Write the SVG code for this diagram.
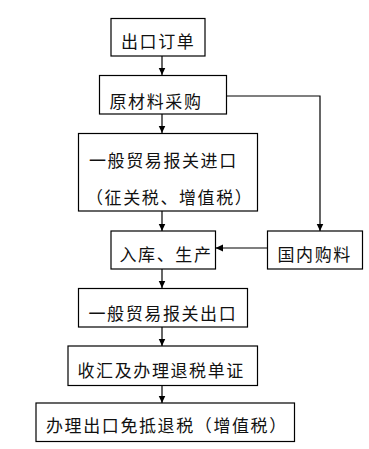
<svg xmlns="http://www.w3.org/2000/svg" width="369" height="449" viewBox="0 0 369 449">
<style>
.box{fill:#fff;stroke:#000;stroke-width:1.2}
.t{font-family:"Noto Sans CJK SC","Noto Sans",sans-serif;font-size:17px;letter-spacing:1.6px;fill:#111}
.c{fill:none;stroke:#000;stroke-width:1.2}
</style>
<defs>
<marker id="ah" markerUnits="userSpaceOnUse" markerWidth="8" markerHeight="8" refX="7.5" refY="4" orient="auto">
<path d="M0,0.5 L7.5,4 L0,7.5 z" fill="#000"/>
</marker>
</defs>
<rect width="369" height="449" fill="#fff"/>
<g id="connectors">
<line class="c" x1="162" y1="56" x2="162" y2="75" marker-end="url(#ah)"/>
<line class="c" x1="162" y1="114" x2="162" y2="133" marker-end="url(#ah)"/>
<polyline class="c" points="226,96 320,96 320,231" marker-end="url(#ah)"/>
<line class="c" x1="162" y1="211" x2="162" y2="231" marker-end="url(#ah)"/>
<line class="c" x1="267" y1="248" x2="215.5" y2="248" marker-end="url(#ah)"/>
<line class="c" x1="162" y1="269" x2="162" y2="288" marker-end="url(#ah)"/>
<line class="c" x1="162" y1="327" x2="162" y2="346" marker-end="url(#ah)"/>
<line class="c" x1="162" y1="386" x2="162" y2="403" marker-end="url(#ah)"/>
</g>
<g id="n1"><rect class="box" x="111" y="18.5" width="94" height="37.5"/><text class="t" x="121" y="48">出口订单</text></g>
<g id="n2"><rect class="box" x="99.5" y="75.5" width="127" height="38.5"/><text class="t" x="109.5" y="107.5">原材料采购</text></g>
<g id="n3"><rect class="box" x="78.5" y="133.5" width="179" height="77.5"/><text class="t" x="89" y="167">一般贸易报关进口</text><text class="t" x="86" y="203.5">（征关税、增值税）</text></g>
<g id="n4"><rect class="box" x="111" y="231" width="104.5" height="38"/><text class="t" x="119.5" y="261">入库、生产</text></g>
<g id="n5"><rect class="box" x="267.5" y="231" width="95" height="38"/><text class="t" x="277.5" y="261">国内购料</text></g>
<g id="n6"><rect class="box" x="78.5" y="288.5" width="169" height="38.5"/><text class="t" x="88.5" y="319.5">一般贸易报关出口</text></g>
<g id="n7"><rect class="box" x="68" y="346" width="189.5" height="39.5"/><text class="t" x="77.5" y="377">收汇及办理退税单证</text></g>
<g id="n8"><rect class="box" x="36" y="403" width="258.5" height="38.5"/><text class="t" x="46" y="432">办理出口免抵退税（增值税）</text></g>
</svg>
